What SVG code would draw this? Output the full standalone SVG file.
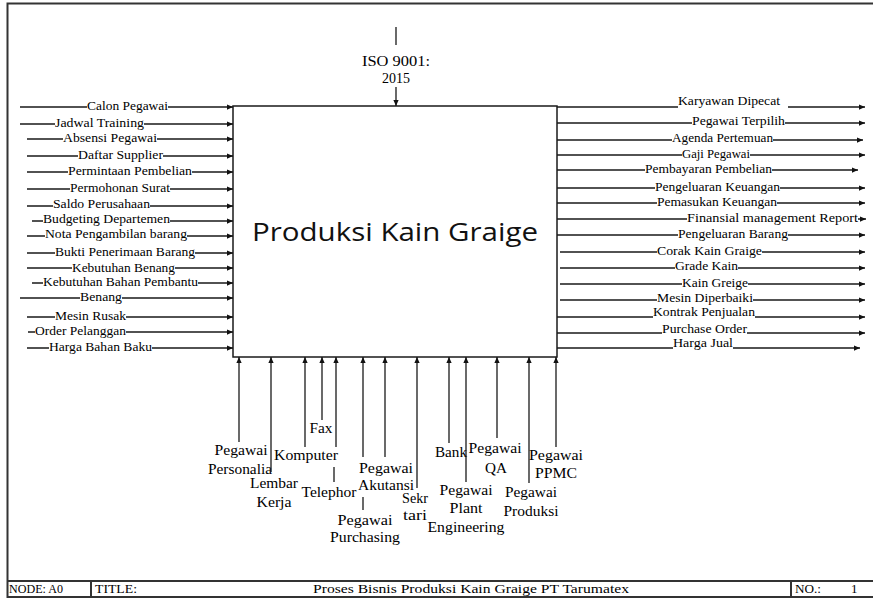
<svg xmlns="http://www.w3.org/2000/svg" width="873" height="598" viewBox="0 0 873 598">
<defs>
<marker id="ah" viewBox="0 0 8 8" refX="8" refY="4" markerWidth="6" markerHeight="6" markerUnits="userSpaceOnUse" orient="auto"><path d="M0,0.5 L8,4 L0,7.5 Z" fill="#111"/></marker>
</defs>
<style>
.ln{stroke:#1a1a1a;stroke-width:1.3;fill:none}
.ar{stroke:#1a1a1a;stroke-width:1.3;fill:none;marker-end:url(#ah)}
.lb{font-family:"Liberation Serif","Times New Roman",serif;font-size:13px;fill:#000}
.bl{font-family:"Liberation Serif","Times New Roman",serif;font-size:14px;fill:#000;text-anchor:middle}
.ft{font-family:"Liberation Serif","Times New Roman",serif;font-size:13px;fill:#000}
.fr{stroke:#333;stroke-width:2;fill:none}
</style>
<rect width="873" height="598" fill="#fff"/>
<g id="frame">
<path class="fr" d="M873 3.5 H7.5 V597 H873 M7.5 581 H873 M91 581 V597 M791 581 V597"/>
<text class="ft" x="9" y="593" textLength="54" lengthAdjust="spacingAndGlyphs">NODE: A0</text>
<text class="ft" x="95" y="593" textLength="42" lengthAdjust="spacingAndGlyphs">TITLE:</text>
<text class="ft" x="313" y="593" textLength="316" lengthAdjust="spacingAndGlyphs">Proses Bisnis Produksi Kain Graige PT Tarumatex</text>
<text class="ft" x="795" y="593" textLength="26" lengthAdjust="spacingAndGlyphs">NO.:</text>
<text class="ft" x="851" y="593">1</text>
</g>
<g id="A0">
<rect x="233" y="106" width="324" height="251" fill="#fff" stroke="#1a1a1a" stroke-width="1.5"/>
<text x="395" y="241" text-anchor="middle" font-family="'Open Sans','Noto Sans',sans-serif" font-size="26" fill="#111" textLength="286" lengthAdjust="spacingAndGlyphs">Produksi Kain Graige</text>
</g>
<g id="connectors">
<path class="ln" d="M396 27 V45"/>
<text class="bl" x="396" y="66" font-size="15" textLength="68" lengthAdjust="spacingAndGlyphs">ISO 9001:</text>
<text class="bl" x="396" y="83" font-size="15">2015</text>
<path class="ar" d="M396 87 V106"/>
<path class="ar" d="M20 107 H87 M168 107 H233"/>
<text class="lb" x="87" y="110" textLength="81" lengthAdjust="spacingAndGlyphs">Calon Pegawai</text>
<path class="ar" d="M20 124 H55 M144 124 H233"/>
<text class="lb" x="55" y="127" textLength="89" lengthAdjust="spacingAndGlyphs">Jadwal Training</text>
<path class="ar" d="M27 139 H63 M157 139 H233"/>
<text class="lb" x="63" y="142" textLength="94" lengthAdjust="spacingAndGlyphs">Absensi Pegawai</text>
<path class="ar" d="M27 156 H78 M163 156 H233"/>
<text class="lb" x="78" y="159" textLength="85" lengthAdjust="spacingAndGlyphs">Daftar Supplier</text>
<path class="ar" d="M27 172 H68 M192 172 H233"/>
<text class="lb" x="68" y="175" textLength="124" lengthAdjust="spacingAndGlyphs">Permintaan Pembelian</text>
<path class="ar" d="M27 189 H70 M170 189 H233"/>
<text class="lb" x="70" y="192" textLength="100" lengthAdjust="spacingAndGlyphs">Permohonan Surat</text>
<path class="ar" d="M27 206 H53 M150 206 H233"/>
<text class="lb" x="53" y="208" textLength="97" lengthAdjust="spacingAndGlyphs">Saldo Perusahaan</text>
<path class="ar" d="M32 221 H43 M170 221 H233"/>
<text class="lb" x="43" y="223" font-size="12.5" textLength="127" lengthAdjust="spacingAndGlyphs">Budgeting Departemen</text>
<path class="ar" d="M27 236 H45 M187 236 H233"/>
<text class="lb" x="45" y="238" font-size="12.5" textLength="142" lengthAdjust="spacingAndGlyphs">Nota Pengambilan barang</text>
<path class="ar" d="M27 253 H55 M195 253 H233"/>
<text class="lb" x="55" y="256" textLength="140" lengthAdjust="spacingAndGlyphs">Bukti Penerimaan Barang</text>
<path class="ar" d="M27 268 H72 M175 268 H233"/>
<text class="lb" x="72" y="272" textLength="103" lengthAdjust="spacingAndGlyphs">Kebutuhan Benang</text>
<path class="ar" d="M32 283 H43 M198 283 H233"/>
<text class="lb" x="43" y="286" textLength="155" lengthAdjust="spacingAndGlyphs">Kebutuhan Bahan Pembantu</text>
<path class="ar" d="M20 298 H80 M122 298 H233"/>
<text class="lb" x="80" y="301" textLength="42" lengthAdjust="spacingAndGlyphs">Benang</text>
<path class="ar" d="M27 317 H55 M126 317 H233"/>
<text class="lb" x="55" y="320" textLength="71" lengthAdjust="spacingAndGlyphs">Mesin Rusak</text>
<path class="ar" d="M28 332 H35 M126 332 H233"/>
<text class="lb" x="35" y="335" textLength="91" lengthAdjust="spacingAndGlyphs">Order Pelanggan</text>
<path class="ar" d="M27 348 H49 M152 348 H233"/>
<text class="lb" x="49" y="351" textLength="103" lengthAdjust="spacingAndGlyphs">Harga Bahan Baku</text>
<path class="ar" d="M557 107 H678 M788 107 H865"/>
<text class="lb" x="678" y="105" textLength="102" lengthAdjust="spacingAndGlyphs">Karyawan Dipecat</text>
<path class="ar" d="M557 123 H692 M785 123 H865"/>
<text class="lb" x="692" y="125" textLength="93" lengthAdjust="spacingAndGlyphs">Pegawai Terpilih</text>
<path class="ar" d="M557 140 H672 M773 140 H863"/>
<text class="lb" x="672" y="142" textLength="101" lengthAdjust="spacingAndGlyphs">Agenda Pertemuan</text>
<path class="ar" d="M557 155 H682 M750 155 H865"/>
<text class="lb" x="682" y="158" textLength="68" lengthAdjust="spacingAndGlyphs">Gaji Pegawai</text>
<path class="ar" d="M557 170 H645 M772 170 H858"/>
<text class="lb" x="645" y="173" textLength="127" lengthAdjust="spacingAndGlyphs">Pembayaran Pembelian</text>
<path class="ar" d="M557 188 H655 M780 188 H865"/>
<text class="lb" x="655" y="191" textLength="125" lengthAdjust="spacingAndGlyphs">Pengeluaran Keuangan</text>
<path class="ar" d="M557 203 H657 M777 203 H865"/>
<text class="lb" x="657" y="206" textLength="120" lengthAdjust="spacingAndGlyphs">Pemasukan Keuangan</text>
<path class="ar" d="M557 219 H687 M858 219 H866"/>
<text class="lb" x="687" y="222" textLength="171" lengthAdjust="spacingAndGlyphs">Finansial management Report</text>
<path class="ar" d="M557 235 H678 M788 235 H865"/>
<text class="lb" x="678" y="238" textLength="110" lengthAdjust="spacingAndGlyphs">Pengeluaran Barang</text>
<path class="ar" d="M560 252 H657 M762 252 H865"/>
<text class="lb" x="657" y="255" textLength="105" lengthAdjust="spacingAndGlyphs">Corak Kain Graige</text>
<path class="ar" d="M560 268 H675 M738 268 H865"/>
<text class="lb" x="675" y="270" textLength="63" lengthAdjust="spacingAndGlyphs">Grade Kain</text>
<path class="ar" d="M560 284 H682 M748 284 H865"/>
<text class="lb" x="682" y="287" textLength="66" lengthAdjust="spacingAndGlyphs">Kain Greige</text>
<path class="ar" d="M560 300 H657 M753 300 H865"/>
<text class="lb" x="657" y="302" font-size="12.5" textLength="96" lengthAdjust="spacingAndGlyphs">Mesin Diperbaiki</text>
<path class="ar" d="M557 317 H653 M755 317 H865"/>
<text class="lb" x="653" y="316" font-size="12.5" textLength="102" lengthAdjust="spacingAndGlyphs">Kontrak Penjualan</text>
<path class="ar" d="M557 333 H662 M747 333 H865"/>
<text class="lb" x="662" y="333" textLength="85" lengthAdjust="spacingAndGlyphs">Purchase Order</text>
<path class="ar" d="M557 348 H673 M733 348 H860"/>
<text class="lb" x="673" y="347" textLength="60" lengthAdjust="spacingAndGlyphs">Harga Jual</text>
<path class="ar" d="M239 442 V357"/>
<text class="bl" x="241" y="455" textLength="53" lengthAdjust="spacingAndGlyphs">Pegawai</text>
<text class="bl" x="240" y="474" textLength="64" lengthAdjust="spacingAndGlyphs">Personalia</text>
<path class="ar" d="M271 472 V357"/>
<text class="bl" x="274" y="488" textLength="48" lengthAdjust="spacingAndGlyphs">Lembar</text>
<text class="bl" x="274" y="507" textLength="35" lengthAdjust="spacingAndGlyphs">Kerja</text>
<path class="ar" d="M305 447 V357"/>
<text class="bl" x="306" y="460" textLength="64" lengthAdjust="spacingAndGlyphs">Komputer</text>
<path class="ar" d="M322 420 V357"/>
<text class="bl" x="321" y="433" textLength="23" lengthAdjust="spacingAndGlyphs">Fax</text>
<path class="ar" d="M334 482 V467 M336 447 V357"/>
<text class="bl" x="329" y="497" textLength="55" lengthAdjust="spacingAndGlyphs">Telephor</text>
<path class="ar" d="M363 510 V497 M363 457 V357"/>
<text class="bl" x="365" y="525" textLength="55" lengthAdjust="spacingAndGlyphs">Pegawai</text>
<text class="bl" x="365" y="542" textLength="70" lengthAdjust="spacingAndGlyphs">Purchasing</text>
<path class="ar" d="M385 457 V357"/>
<text class="bl" x="386" y="473" textLength="54" lengthAdjust="spacingAndGlyphs">Pegawai</text>
<text class="bl" x="386" y="490" textLength="56" lengthAdjust="spacingAndGlyphs">Akutansi</text>
<path class="ar" d="M417 488 V357"/>
<text class="bl" x="415" y="503" textLength="26" lengthAdjust="spacingAndGlyphs">Sekr</text>
<text class="bl" x="415" y="520" textLength="24" lengthAdjust="spacingAndGlyphs">tari</text>
<path class="ar" d="M449 443 V357"/>
<text class="bl" x="451" y="457" textLength="32" lengthAdjust="spacingAndGlyphs">Bank</text>
<path class="ar" d="M466 482 V357"/>
<text class="bl" x="466" y="495" textLength="53" lengthAdjust="spacingAndGlyphs">Pegawai</text>
<text class="bl" x="466" y="513" textLength="33" lengthAdjust="spacingAndGlyphs">Plant</text>
<text class="bl" x="466" y="532" textLength="77" lengthAdjust="spacingAndGlyphs">Engineering</text>
<path class="ar" d="M497 438 V357"/>
<text class="bl" x="495" y="453" textLength="53" lengthAdjust="spacingAndGlyphs">Pegawai</text>
<text class="bl" x="496" y="473" textLength="22" lengthAdjust="spacingAndGlyphs">QA</text>
<path class="ar" d="M529 483 V357"/>
<text class="bl" x="531" y="497" textLength="52" lengthAdjust="spacingAndGlyphs">Pegawai</text>
<text class="bl" x="531" y="516" textLength="55" lengthAdjust="spacingAndGlyphs">Produksi</text>
<path class="ar" d="M556 447 V357"/>
<text class="bl" x="556" y="460" textLength="54" lengthAdjust="spacingAndGlyphs">Pegawai</text>
<text class="bl" x="556" y="478" textLength="42" lengthAdjust="spacingAndGlyphs">PPMC</text>
</g>
</svg>
